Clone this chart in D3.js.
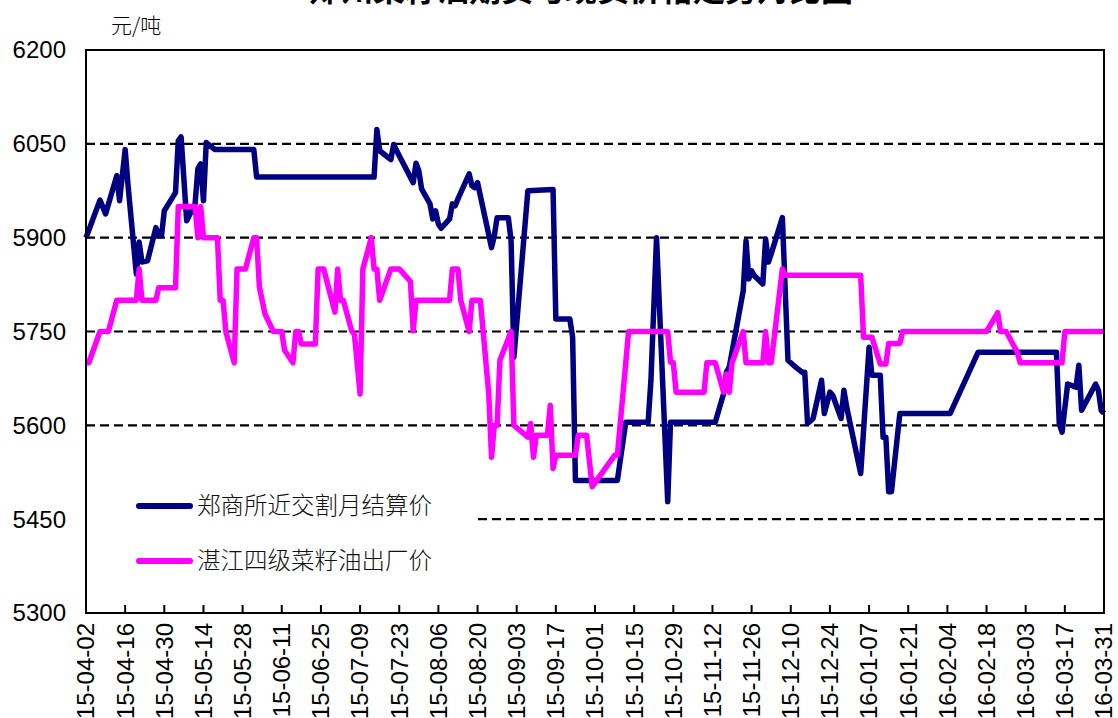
<!DOCTYPE html>
<html>
<head>
<meta charset="utf-8">
<script src="https://cdn.jsdelivr.net/npm/d3@7"></script>
<style>
  body { margin: 0; background: #fff; }
  text { font-family: "Liberation Sans", Arial, sans-serif; }
  .cjk { font-family: "Noto Sans CJK SC", "Noto Sans", sans-serif; }
</style>
</head>
<body>
<svg width="1118" height="718"></svg>
<script>
// chart data
var title = "郑州菜籽油期货与现货价格走势对比图";
var unitLabel = "元/吨";
var seriesNames = ["郑商所近交割月结算价", "湛江四级菜籽油出厂价"];

var yTicks = [5300, 5450, 5600, 5750, 5900, 6050, 6200];

var tickLabels = ["15-04-02", "15-04-16", "15-04-30", "15-05-14", "15-05-28", "15-06-11",
  "15-06-25", "15-07-09", "15-07-23", "15-08-06", "15-08-20", "15-09-03", "15-09-17",
  "15-10-01", "15-10-15", "15-10-29", "15-11-12", "15-11-26", "15-12-10", "15-12-24",
  "16-01-07", "16-01-21", "16-02-04", "16-02-18", "16-03-03", "16-03-17", "16-03-31"];

var futuresDates = ["15-04-02", "15-04-07", "15-04-09", "15-04-13", "15-04-14", "15-04-16",
  "15-04-17", "15-04-20", "15-04-21", "15-04-22", "15-04-24", "15-04-27", "15-04-28",
  "15-04-29", "15-04-30", "15-05-04", "15-05-05", "15-05-06", "15-05-08", "15-05-11",
  "15-05-12", "15-05-13", "15-05-14", "15-05-15", "15-05-18", "15-06-01", "15-06-02",
  "15-07-14", "15-07-15", "15-07-16", "15-07-20", "15-07-21", "15-07-23", "15-07-28",
  "15-07-29", "15-07-30", "15-07-31", "15-08-03", "15-08-04", "15-08-05", "15-08-06",
  "15-08-07", "15-08-10", "15-08-11", "15-08-12", "15-08-13", "15-08-17", "15-08-18",
  "15-08-19", "15-08-20", "15-08-25", "15-08-26", "15-08-27", "15-08-31", "15-09-01",
  "15-09-02", "15-09-07", "15-09-16", "15-09-17", "15-09-22", "15-09-23", "15-09-24",
  "15-10-09", "15-10-12", "15-10-20", "15-10-21", "15-10-23", "15-10-27", "15-10-28",
  "15-11-13", "15-11-16", "15-11-17", "15-11-18", "15-11-23", "15-11-24", "15-11-25",
  "15-11-26", "15-11-27", "15-11-30", "15-12-01", "15-12-02", "15-12-03", "15-12-07",
  "15-12-09", "15-12-11", "15-12-14", "15-12-15", "15-12-16", "15-12-18", "15-12-21",
  "15-12-22", "15-12-24", "15-12-25", "15-12-28", "15-12-29", "15-12-30", "16-01-04",
  "16-01-07", "16-01-08", "16-01-11", "16-01-12", "16-01-13", "16-01-14", "16-01-15",
  "16-01-18", "16-02-05", "16-02-15", "16-03-14", "16-03-15", "16-03-16", "16-03-18",
  "16-03-21", "16-03-22", "16-03-23", "16-03-28", "16-03-29", "16-03-30", "16-03-31"];
var futuresPrices = [5900, 5960, 5938, 5999, 5959, 6041,
  5985, 5842, 5893, 5861, 5863, 5916, 5903,
  5903, 5943, 5972, 6055, 6061, 5927, 5954,
  6010, 6018, 5959, 6052, 6041, 6041, 5997,
  5997, 6073, 6039, 6025, 6049, 6031, 5988,
  6019, 6007, 5978, 5954, 5930, 5943, 5922,
  5915, 5930, 5954, 5951, 5962, 6002, 5983,
  5980, 5988, 5884, 5903, 5932, 5932, 5895,
  5709, 5975, 5977, 5770, 5770, 5741, 5512,
  5512, 5605, 5605, 5672, 5900, 5478, 5605,
  5605, 5651, 5685, 5693, 5815, 5895, 5834,
  5847, 5839, 5826, 5898, 5861, 5874, 5932,
  5704, 5696, 5685, 5685, 5603, 5611, 5672,
  5619, 5653, 5648, 5611, 5656, 5629, 5523,
  5725, 5680, 5680, 5581, 5581, 5494, 5494,
  5619, 5619, 5717, 5717, 5603, 5589, 5666,
  5661, 5696, 5624, 5666, 5656, 5624, 5619];

var spotDates = ["15-04-02", "15-04-03", "15-04-07", "15-04-10", "15-04-13", "15-04-20",
  "15-04-21", "15-04-22", "15-04-27", "15-04-28", "15-05-04", "15-05-05", "15-05-11",
  "15-05-12", "15-05-13", "15-05-14", "15-05-19", "15-05-20", "15-05-21", "15-05-22",
  "15-05-25", "15-05-26", "15-05-29", "15-06-01", "15-06-02", "15-06-03", "15-06-05",
  "15-06-08", "15-06-11", "15-06-12", "15-06-15", "15-06-16", "15-06-17", "15-06-18",
  "15-06-23", "15-06-24", "15-06-26", "15-06-30", "15-07-01", "15-07-02", "15-07-03",
  "15-07-06", "15-07-07", "15-07-09", "15-07-10", "15-07-13", "15-07-14", "15-07-15",
  "15-07-16", "15-07-20", "15-07-23", "15-07-27", "15-07-28", "15-07-29", "15-08-10",
  "15-08-11", "15-08-13", "15-08-14", "15-08-17", "15-08-18", "15-08-21", "15-08-24",
  "15-08-25", "15-08-26", "15-08-27", "15-08-28", "15-09-01", "15-09-02", "15-09-07",
  "15-09-08", "15-09-09", "15-09-10", "15-09-14", "15-09-15", "15-09-16", "15-09-17",
  "15-09-24", "15-09-25", "15-09-28", "15-09-30", "15-10-08", "15-10-09", "15-10-12",
  "15-10-13", "15-10-27", "15-10-28", "15-10-29", "15-10-30", "15-11-09", "15-11-10",
  "15-11-13", "15-11-16", "15-11-17", "15-11-18", "15-11-19", "15-11-23", "15-11-24",
  "15-11-30", "15-12-01", "15-12-02", "15-12-03", "15-12-07", "15-12-08", "16-01-04",
  "16-01-05", "16-01-08", "16-01-11", "16-01-13", "16-01-14", "16-01-18", "16-01-19",
  "16-02-18", "16-02-22", "16-02-23", "16-02-25", "16-02-29", "16-03-01", "16-03-16",
  "16-03-17", "16-03-31"];
var spotPrices = [5700, 5700, 5750, 5750, 5800, 5800,
  5850, 5800, 5800, 5820, 5820, 5950, 5950,
  5900, 5950, 5900, 5900, 5800, 5800, 5750,
  5700, 5850, 5850, 5900, 5900, 5821, 5778,
  5750, 5750, 5720, 5700, 5750, 5750, 5730,
  5730, 5850, 5850, 5781, 5850, 5800, 5800,
  5751, 5745, 5650, 5850, 5900, 5850, 5850,
  5800, 5850, 5850, 5830, 5751, 5800, 5800,
  5850, 5850, 5800, 5750, 5800, 5800, 5651,
  5549, 5600, 5600, 5704, 5750, 5600, 5581,
  5603, 5549, 5584, 5584, 5632, 5531, 5552,
  5552, 5584, 5584, 5502, 5552, 5552, 5700,
  5750, 5750, 5701, 5700, 5653, 5653, 5700,
  5700, 5653, 5682, 5653, 5700, 5750, 5700,
  5700, 5750, 5700, 5700, 5850, 5840, 5840,
  5741, 5741, 5698, 5698, 5731, 5731, 5750,
  5750, 5780, 5750, 5750, 5717, 5700, 5700,
  5750, 5750];

var svg = d3.select("svg");
var parse = d3.timeParse("%y-%m-%d");

var plotLeft = 86, plotRight = 1104, plotTop = 50, plotBottom = 613;

var x = d3.scaleTime()
    .domain([parse(tickLabels[0]), parse(tickLabels[tickLabels.length - 1])])
    .range([plotLeft, plotRight]);

var y = d3.scaleLinear()
    .domain([5300, 6200])
    .range([plotBottom, plotTop]);

function pairs(dates, values) {
    return dates.map(function(d, i) { return {date: parse(d), value: values[i]}; });
}

// title, cut at the top like the original
svg.append("text")
    .attr("class", "cjk")
    .attr("x", 581)
    .attr("y", 1)
    .attr("text-anchor", "middle")
    .attr("font-size", 32)
    .attr("font-weight", "bold")
    .text(title);

svg.append("text")
    .attr("class", "cjk")
    .attr("x", 111)
    .attr("y", 33)
    .attr("font-size", 21)
    .attr("font-weight", 300)
    .text(unitLabel);

// dashed grid
svg.append("g")
    .selectAll("line")
    .data(yTicks.slice(1, -1))
    .enter().append("line")
    .attr("x1", plotLeft).attr("x2", plotRight)
    .attr("y1", function(d) { return y(d); })
    .attr("y2", function(d) { return y(d); })
    .attr("stroke", "#000")
    .attr("stroke-width", 2.2)
    .attr("stroke-dasharray", "9,5");

// y labels
svg.append("g")
    .selectAll("text")
    .data(yTicks)
    .enter().append("text")
    .attr("x", 66)
    .attr("y", function(d) { return y(d); })
    .attr("dy", "0.35em")
    .attr("text-anchor", "end")
    .attr("font-size", 24)
    .text(function(d) { return d; });

// x ticks and labels
var xt = svg.append("g");
xt.selectAll("line")
    .data(tickLabels)
    .enter().append("line")
    .attr("x1", function(d) { return x(parse(d)); })
    .attr("x2", function(d) { return x(parse(d)); })
    .attr("y1", plotBottom).attr("y2", plotBottom - 8)
    .attr("stroke", "#000")
    .attr("stroke-width", 2);

xt.selectAll("text")
    .data(tickLabels)
    .enter().append("text")
    .attr("transform", function(d) { return "translate(" + x(parse(d)) + "," + (plotBottom + 10) + ") rotate(-90)"; })
    .attr("dy", "0.35em")
    .attr("text-anchor", "end")
    .attr("font-size", 24)
    .text(function(d) { return d; });

// the two series
var line = d3.line()
    .x(function(d) { return x(d.date); })
    .y(function(d) { return y(d.value); });

var series = [
    {name: seriesNames[0], color: "#000080", points: pairs(futuresDates, futuresPrices)},
    {name: seriesNames[1], color: "#ff00ff", points: pairs(spotDates, spotPrices)}
];

svg.append("g")
    .selectAll("path")
    .data(series)
    .enter().append("path")
    .attr("d", function(d) { return line(d.points); })
    .attr("fill", "none")
    .attr("stroke", function(d) { return d.color; })
    .attr("stroke-width", 5.5)
    .attr("stroke-linejoin", "round");

// legend sits on a white box over the grid
var legend = svg.append("g");
legend.append("rect")
    .attr("x", plotLeft + 1).attr("y", 478)
    .attr("width", 391).attr("height", 112)
    .attr("fill", "#fff");

var item = legend.selectAll("g")
    .data(series)
    .enter().append("g")
    .attr("transform", function(d, i) { return "translate(0," + (506 + i * 55) + ")"; });

item.append("line")
    .attr("x1", 139).attr("x2", 190)
    .attr("stroke", function(d) { return d.color; })
    .attr("stroke-width", 6)
    .attr("stroke-linecap", "round");

item.append("text")
    .attr("class", "cjk")
    .attr("x", 197)
    .attr("dy", "0.36em")
    .attr("font-size", 23.5)
    .attr("font-weight", 300)
    .attr("fill", "#111")
    .text(function(d) { return d.name; });

// plot frame
svg.append("rect")
    .attr("x", plotLeft).attr("y", plotTop)
    .attr("width", plotRight - plotLeft).attr("height", plotBottom - plotTop)
    .attr("fill", "none")
    .attr("stroke", "#000")
    .attr("stroke-width", 2);
</script>
</body>
</html>
